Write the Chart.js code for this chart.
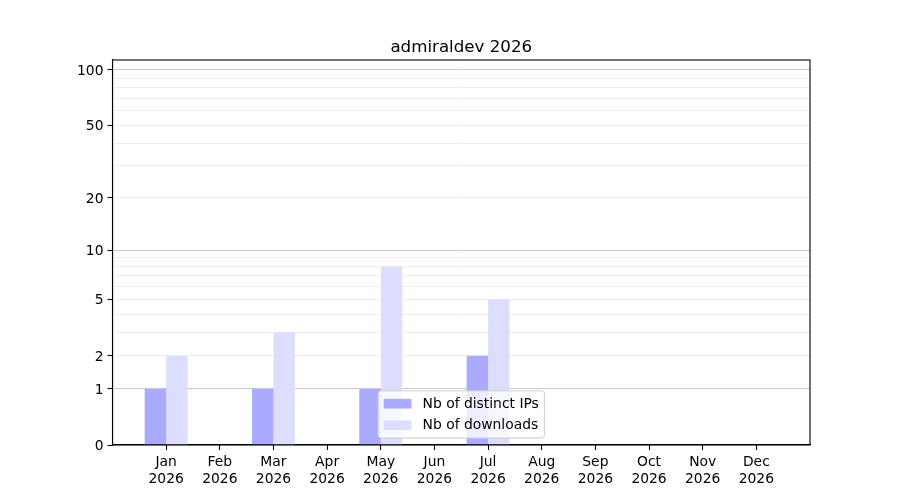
<!DOCTYPE html>
<html>
<head>
<meta charset="utf-8">
<script src="https://cdn.jsdelivr.net/npm/chart.js@4"></script>
<style>
  html, body { margin: 0; padding: 0; background: #fff; }
  #wrap { width: 900px; height: 500px; }
</style>
</head>
<body>
<div id="wrap"><canvas id="chart" width="900" height="500"></canvas></div>
<script>
// chart data
const months = ['Jan', 'Feb', 'Mar', 'Apr', 'May', 'Jun', 'Jul', 'Aug', 'Sep', 'Oct', 'Nov', 'Dec'];
const year = '2026';
const distinctIps = [1, 0, 1, 0, 1, 0, 2, 0, 0, 0, 0, 0];
const downloads = [2, 0, 3, 0, 8, 0, 5, 0, 0, 0, 0, 0];
const yTicks = [0, 1, 2, 3, 4, 5, 6, 7, 8, 9, 10, 20, 30, 40, 50, 60, 70, 80, 90, 100];
const yLabels = [0, 1, 2, 5, 10, 20, 50, 100];
const yMajorGrid = [1, 10, 100];
const yMax = 113;

const FONT = 'DejaVu Sans';
const FS = 13.89;

// y axis where position follows log10(1 + v), like the reference
class Log1pScale extends Chart.Scale {
  static id = 'log1p';
  static defaults = {};

  determineDataLimits() {
    this.min = this.options.min ?? 0;
    this.max = this.options.max ?? 100;
  }

  buildTicks() {
    return yTicks.map(value => ({ value }));
  }

  configure() {
    this._startValue = Math.log10(1 + this.min);
    this._valueRange = Math.log10(1 + this.max) - this._startValue;
    super.configure();
  }

  getPixelForValue(value) {
    if (value === undefined || value === null || isNaN(value)) value = this.min;
    return this.getPixelForDecimal((Math.log10(1 + value) - this._startValue) / this._valueRange);
  }

  getValueForPixel(pixel) {
    return Math.pow(10, this._startValue + this.getDecimalForPixel(pixel) * this._valueRange) - 1;
  }

  getLabelForValue(value) {
    return String(value);
  }
}
Chart.register(Log1pScale);

// centre the title over the plot area instead of the whole canvas
const titleOverPlot = {
  id: 'titleOverPlot',
  afterLayout(chart) {
    const t = chart.titleBlock;
    const a = chart.chartArea;
    if (!t) return;
    t.left = a.left;
    t.right = a.right;
    t.width = a.right - a.left;
  }
};

// matplotlib style box around the plot area
const frame = {
  id: 'frame',
  afterDraw(chart) {
    const { ctx, chartArea: a } = chart;
    ctx.save();
    ctx.strokeStyle = '#000';
    ctx.lineWidth = 1.1;
    ctx.strokeRect(a.left, a.top, a.right - a.left, a.bottom - a.top);
    ctx.restore();
  }
};

// legend drawn inside the plot, lower center
const innerLegend = {
  id: 'innerLegend',
  afterDraw(chart) {
    const { ctx, chartArea: a } = chart;
    const sets = chart.data.datasets;
    ctx.save();
    ctx.font = FS + 'px "' + FONT + '"';
    const textW = Math.max(...sets.map(d => ctx.measureText(d.label).width));
    const pad = 0.4 * FS, handleW = 2 * FS, handleH = 0.7 * FS, gap = 0.8 * FS;
    const rowH = 1.05 * FS, rowGap = 0.5 * FS;
    const w = 2 * pad + handleW + gap + textW;
    const h = 2 * pad + sets.length * rowH + (sets.length - 1) * rowGap;
    const x = (a.left + a.right) / 2 - w / 2;
    const y = a.bottom - 0.5 * FS - h;

    ctx.beginPath();
    ctx.roundRect(x, y, w, h, 2.8);
    ctx.fillStyle = 'rgba(255,255,255,0.8)';
    ctx.fill();
    ctx.strokeStyle = '#cccccc';
    ctx.lineWidth = 1;
    ctx.stroke();

    ctx.textBaseline = 'middle';
    ctx.textAlign = 'left';
    sets.forEach((d, i) => {
      const cy = y + pad + i * (rowH + rowGap) + rowH / 2;
      ctx.fillStyle = d.backgroundColor;
      ctx.fillRect(x + pad, cy - handleH / 2, handleW, handleH);
      ctx.fillStyle = '#000';
      ctx.fillText(d.label, x + pad + handleW + gap, cy + 0.5);
    });
    ctx.restore();
  }
};

Chart.defaults.font.family = FONT;
Chart.defaults.font.size = FS;
Chart.defaults.color = '#000';

new Chart(document.getElementById('chart'), {
  type: 'bar',
  data: {
    labels: months.map((m, i) => i),
    datasets: [
      {
        label: 'Nb of distinct IPs',
        data: distinctIps,
        backgroundColor: '#aaaaff',
        borderWidth: 0,
        categoryPercentage: 0.8,
        barPercentage: 1.0,
      },
      {
        label: 'Nb of downloads',
        data: downloads,
        backgroundColor: '#ddddff',
        borderWidth: 0,
        categoryPercentage: 0.8,
        barPercentage: 1.0,
      },
    ],
  },
  options: {
    responsive: false,
    animation: false,
    layout: { padding: { left: 0, right: 90, top: 0, bottom: 0 } },
    plugins: {
      legend: { display: false },
      tooltip: { enabled: false },
      title: {
        display: true,
        text: 'admiraldev 2026',
        color: '#000',
        font: { family: FONT, size: 16.67, weight: 'normal', lineHeight: 1.2 },
        padding: { top: 37.5, bottom: 2.5 },
      },
    },
    scales: {
      x: {
        type: 'linear',
        min: -1,
        max: 12,
        offset: false,
        afterBuildTicks: scale => {
          scale.ticks = scale.ticks.filter(t => t.value >= 0 && t.value <= 11);
        },
        afterFit: scale => { scale.height = 55; },
        grid: {
          display: true,
          offset: false,
          drawOnChartArea: false,
          drawTicks: true,
          tickLength: 5,
          tickColor: '#000',
          tickWidth: 1.1,
        },
        border: { display: true, color: '#000', width: 1.1 },
        ticks: {
          stepSize: 1,
          autoSkip: false,
          maxRotation: 0,
          padding: 4,
          font: { size: FS, lineHeight: 1.2 },
          callback: v => [months[v], year],
        },
      },
      y: {
        type: 'log1p',
        min: 0,
        max: yMax,
        z: 1,
        afterFit: scale => { scale.width = 112.5; },
        grid: {
          display: true,
          drawOnChartArea: true,
          drawTicks: true,
          tickLength: 5,
          lineWidth: 1,
          tickWidth: 1.1,
          color: c => {
            const v = c.tick ? c.tick.value : 0;
            if (v === 0) return 'rgba(0,0,0,0)';
            return yMajorGrid.includes(v) ? '#cccccc' : '#eeeeee';
          },
          tickColor: c => (c.tick && yLabels.includes(c.tick.value) ? '#000' : 'rgba(0,0,0,0)'),
        },
        border: { display: true, color: '#000', width: 1.1 },
        ticks: {
          autoSkip: false,
          padding: 4,
          labelOffset: 1.5,
          font: { size: FS },
          callback: v => (yLabels.includes(v) ? String(v) : ''),
        },
      },
    },
  },
  plugins: [titleOverPlot, frame, innerLegend],
});
</script>
</body>
</html>
